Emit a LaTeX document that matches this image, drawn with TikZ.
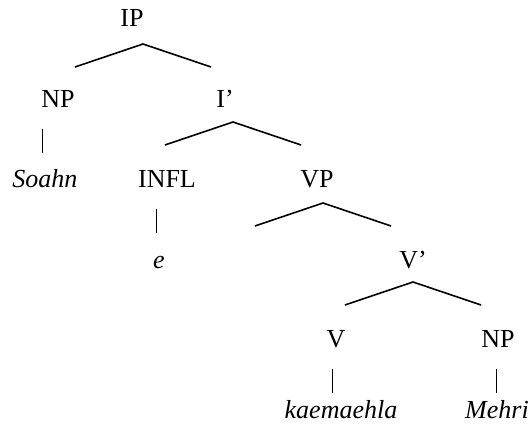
\documentclass[tikz,border=0pt]{standalone}
\usepackage{fontspec}
\setmainfont{Liberation Serif}
\tikzset{lab/.style={inner sep=0pt,text height=17pt,text depth=5pt},
 word/.style={lab,font=\itshape},
 branch/.style={line width=1.6pt},
 bar/.style={line width=1pt},
 }

\begin{document}
\begin{tikzpicture}[x=1pt,y=-1pt]
        \useasboundingbox (0,0) rectangle (531,435);
        \fontsize{26}{30}\selectfont
        \node[lab] (ip) at (132, 21) {IP};
        \node[lab] (np1) at (58, 102) {NP};
        \node[lab] (i1) at (225, 102) {I’};
        \node[word] (soahn) at (45, 182) {Soahn};
        \node[lab] (infl) at (167, 182) {INFL};
        \node[lab] (vp) at (317, 182) {VP};
        \node[word] (e) at (159, 263) {e};
        \node[lab] (v1) at (413, 263) {V’};
        \node[lab] (v) at (336, 342) {V};
        \node[lab] (np2) at (498, 342) {NP};
        \node[word] (kaemaehla) at (341, 413) {kaemaehla};
        \node[word] (mehri) at (497, 413) {Mehri};
        \coordinate (ip-top) at (143, 44);
        \coordinate (i1-top) at (233, 122);
        \coordinate (vp-top) at (323, 203);
        \coordinate (v1-top) at (413, 282);
        \foreach \n in {ip, i1, vp, v1} {
            \draw[branch] (\n-top) ++(-68, 23) -- (\n-top) -- ++(68, 23);
        }
        \foreach \n/\dx in {np1/-16, infl/-11, v/-4, np2/-2} {
            \draw[bar] (\n) ++(\dx, 27) -- ++(0, 24);
        }
    \end{tikzpicture}
\end{document}
